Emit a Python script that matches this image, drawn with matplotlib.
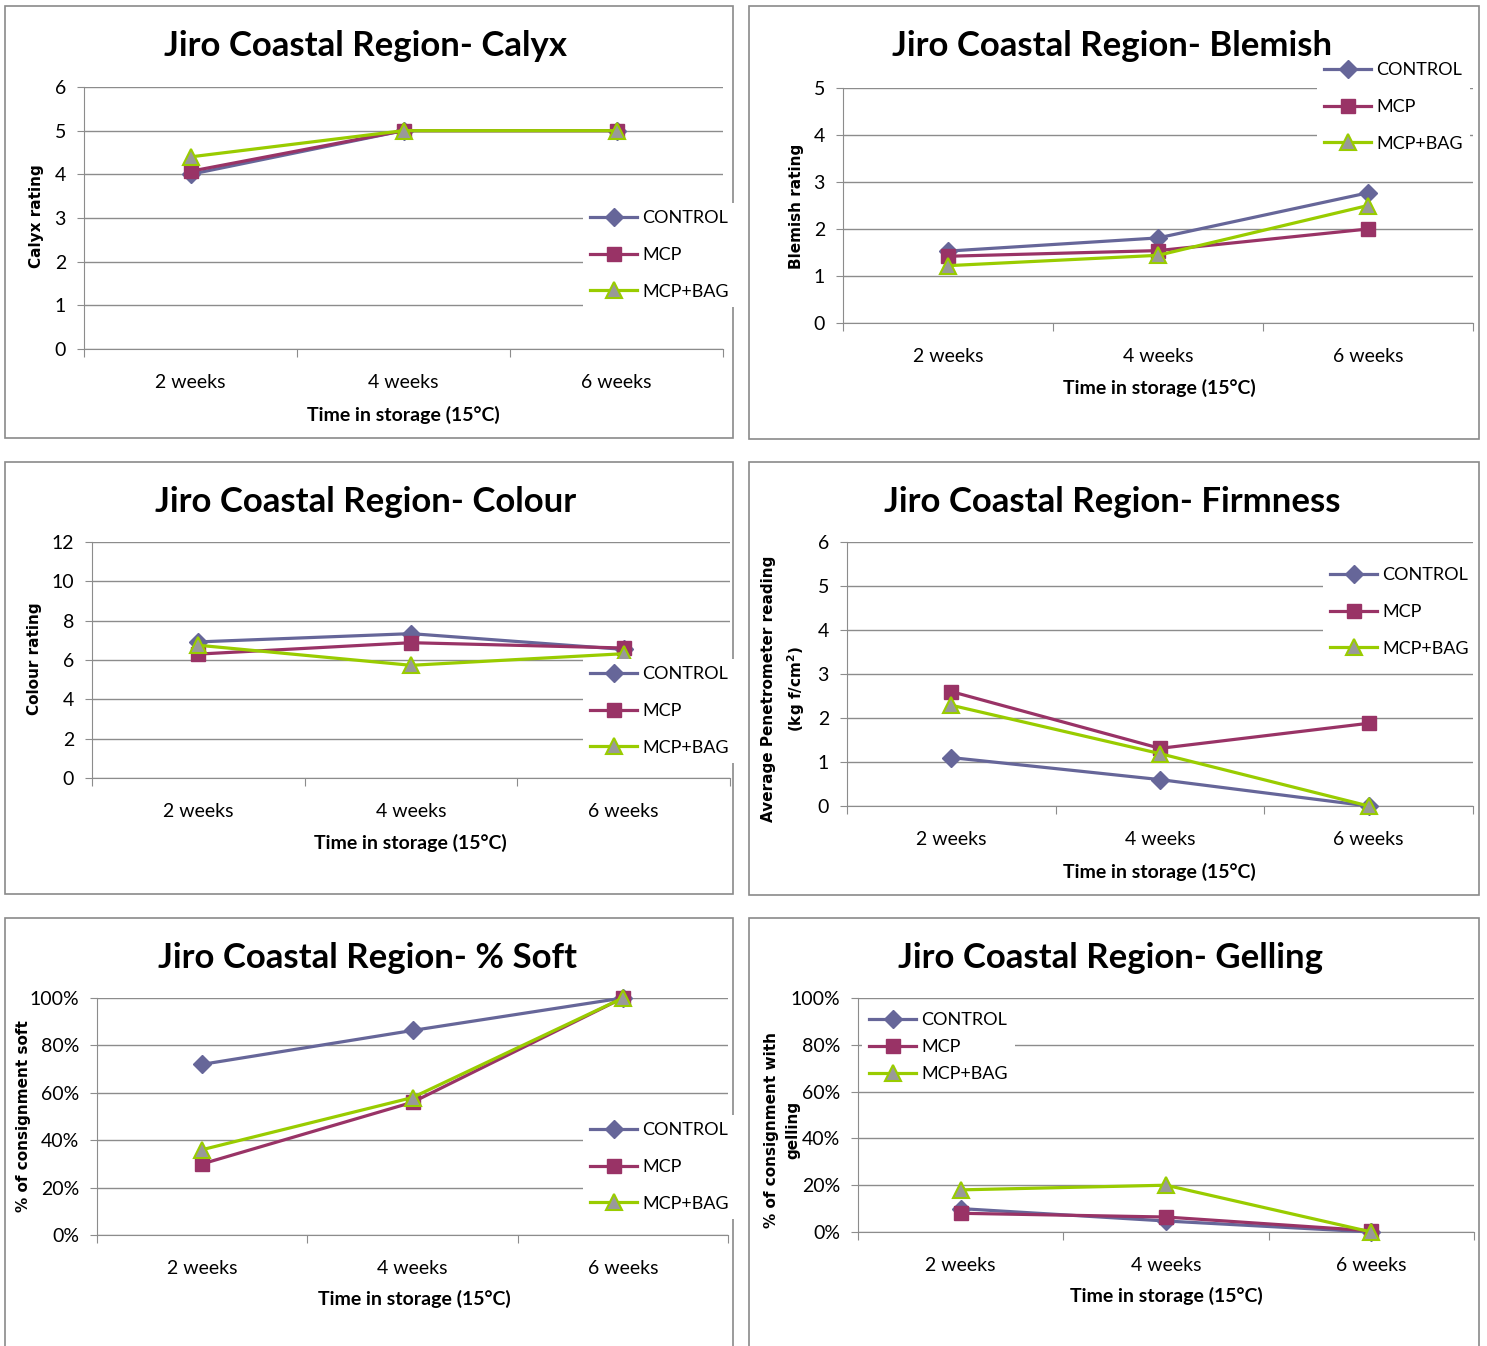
import matplotlib
matplotlib.use("Agg")
import matplotlib.pyplot as plt
from matplotlib.patches import Rectangle
from matplotlib.ticker import PercentFormatter

weeks = ["2 weeks", "4 weeks", "6 weeks"]
names = ["CONTROL", "MCP", "MCP+BAG"]

calyx_control = [4.0, 5.0, 5.0]
calyx_mcp = [4.07, 5.0, 5.0]
calyx_bag = [4.4, 5.0, 5.0]

blemish_control = [1.53, 1.81, 2.77]
blemish_mcp = [1.42, 1.54, 2.0]
blemish_bag = [1.22, 1.44, 2.5]

colour_control = [6.92, 7.34, 6.54]
colour_mcp = [6.3, 6.88, 6.61]
colour_bag = [6.75, 5.73, 6.32]

firm_control = [1.1, 0.6, 0.0]
firm_mcp = [2.6, 1.31, 1.88]
firm_bag = [2.29, 1.19, 0.0]

soft_control = [0.72, 0.863, 1.0]
soft_mcp = [0.30, 0.56, 1.0]
soft_bag = [0.36, 0.58, 1.0]

gel_control = [0.10, 0.047, 0.0]
gel_mcp = [0.08, 0.064, 0.005]
gel_bag = [0.18, 0.20, 0.0]

W, H = 1487, 1346
fig = plt.figure(figsize=(W / 100, H / 100), dpi=100)

NARROW = ["Liberation Sans Narrow", "Lato", "DejaVu Sans"]
WIDE = ["DejaVu Sans"]
grid_c = "#8c8c8c"
cols = ["#666699", "#993366", "#99cc00"]


def fx(x):
    return x / W


def fy(y):
    return 1 - y / H


# panel frames
for (x0, y0, x1, y1) in [(5, 6, 733, 438), (749, 6, 1479, 439),
                         (5, 462, 733, 894), (749, 462, 1479, 895),
                         (5, 918, 733, 1350), (749, 918, 1479, 1350)]:
    fig.patches.append(Rectangle((fx(x0), fy(y1)), (x1 - x0) / W, (y1 - y0) / H,
                                 transform=fig.transFigure, fill=False,
                                 edgecolor="#8a8a8a", lw=1.2))


def panel(box, series, ymax, ystep, title, tpos, ylabel, ypos, xlpos, legpos,
          legspace=1.15, pct=False):
    l, t, r, b = box
    ax = fig.add_axes([fx(l), fy(b), (r - l) / W, (b - t) / H])
    x = range(len(weeks))
    mk = [dict(marker="D", ms=9, mfc=cols[0], mec=cols[0]),
          dict(marker="s", ms=10, mfc=cols[1], mec=cols[1]),
          dict(marker="^", ms=12, mfc="#999999", mec=cols[2], mew=1.5)]
    lines = []
    for vals, c, m, n in zip(series, cols, mk, names):
        ln, = ax.plot(x, vals, color=c, lw=2.3, clip_on=False, zorder=3, label=n, **m)
        lines.append(ln)
    ax.set_xlim(-0.5, 2.5)
    ax.set_ylim(0, ymax)
    yt = [i * ystep for i in range(int(round(ymax / ystep)) + 1)]
    ax.set_yticks(yt)
    if pct:
        ax.yaxis.set_major_formatter(PercentFormatter(1.0, decimals=0))
    ax.set_xticks([-0.5, 0.5, 1.5, 2.5])
    ax.set_xticklabels([])
    ax.set_xticks([0, 1, 2], minor=True)
    ax.set_xticklabels(weeks, minor=True, fontfamily=NARROW, fontsize=14)
    ax.tick_params(axis="x", which="major", length=6, color=grid_c, direction="out")
    ax.tick_params(axis="x", which="minor", length=0, pad=18)
    ax.tick_params(axis="y", length=5, color=grid_c, pad=8, labelsize=14)
    for lb in ax.get_yticklabels():
        lb.set_fontfamily(NARROW)
    ax.grid(axis="y", color=grid_c, lw=1)
    ax.set_axisbelow(True)
    for s in ["top", "right"]:
        ax.spines[s].set_visible(False)
    ax.spines["left"].set_color(grid_c)
    ax.spines["bottom"].set_color(grid_c)

    fig.text(fx(tpos[0]), fy(tpos[1]), title, ha="center", va="center",
             fontsize=25, fontweight="bold", family=NARROW)
    fig.text(fx(xlpos[0]), fy(xlpos[1]), "Time in storage (15°C)", ha="center",
             va="center", fontsize=14, fontweight="bold", family=NARROW)
    fig.text(fx(ypos[0]), fy(ypos[1]), ylabel, ha="center", va="center",
             rotation=90, fontsize=11, fontweight="bold", family=WIDE,
             linespacing=1.5)

    leg = fig.legend(handles=lines, loc="upper left",
                     bbox_to_anchor=(fx(legpos[0]), fy(legpos[1])),
                     frameon=True, facecolor="white", edgecolor="none",
                     framealpha=1, fancybox=False, borderpad=0.4,
                     handlelength=2.6, handletextpad=0.3,
                     labelspacing=legspace, prop={"family": NARROW, "size": 13})
    leg.set_zorder(5)
    return ax


panel((84, 87, 723, 349), [calyx_control, calyx_mcp, calyx_bag], 6, 1,
      "Jiro Coastal Region- Calyx", (366, 46), "Calyx rating", (37, 216),
      (403, 415), (574, 194))
panel((843, 88, 1473, 323), [blemish_control, blemish_mcp, blemish_bag], 5, 1,
      "Jiro Coastal Region- Blemish", (1112, 46), "Blemish rating", (796, 206),
      (1159, 388), (1308, 46))
panel((92, 542, 730, 778), [colour_control, colour_mcp, colour_bag], 12, 2,
      "Jiro Coastal Region- Colour", (366, 502), "Colour rating", (35, 659),
      (410, 843), (574, 650))
panel((847, 542, 1473, 806), [firm_control, firm_mcp, firm_bag], 6, 1,
      "Jiro Coastal Region- Firmness", (1112, 502),
      "Average Penetrometer reading\n(kg f/cm$^{\\mathbf{2}}$)", (784, 689),
      (1159, 872), (1314, 551))
panel((97, 998, 728, 1235), [soft_control, soft_mcp, soft_bag], 1.0, 0.2,
      "Jiro Coastal Region- % Soft", (367, 958), "% of consignment soft", (24, 1116),
      (414, 1299), (574, 1106), pct=True)
panel((858, 998, 1474, 1232), [gel_control, gel_mcp, gel_bag], 1.0, 0.2,
      "Jiro Coastal Region- Gelling", (1111, 958), "% of consignment with\ngelling",
      (782, 1130), (1166, 1296), (853, 996), legspace=0.6, pct=True)

fig.savefig("out.png", dpi=100)
